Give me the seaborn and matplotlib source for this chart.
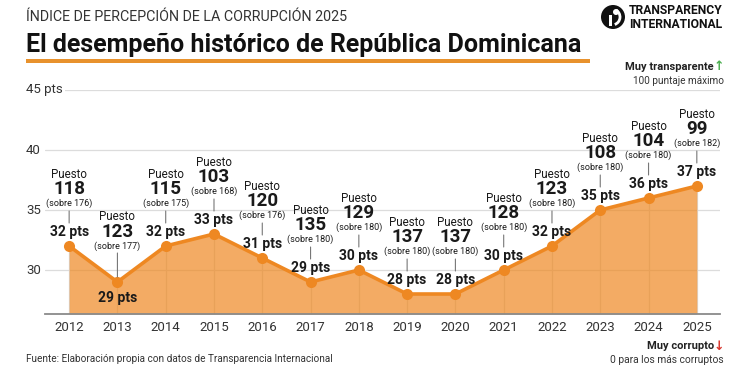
import matplotlib
matplotlib.use('Agg')
import pandas as pd
import matplotlib.pyplot as plt
import matplotlib.transforms as mtrans
import seaborn as sns
from matplotlib.patches import Circle, Rectangle, Arc

##### DATA #####
years = [2012, 2013, 2014, 2015, 2016, 2017, 2018, 2019, 2020, 2021, 2022, 2023, 2024, 2025]
scores = [32, 29, 32, 33, 31, 29, 30, 28, 28, 30, 32, 35, 36, 37]
ranks = [118, 123, 115, 103, 120, 135, 129, 137, 137, 128, 123, 108, 104, 99]
totals = [176, 177, 175, 168, 176, 180, 180, 180, 180, 180, 180, 180, 180, 182]
ytick_vals = [30, 35, 40, 45]
ytick_labels = ['30', '35', '40', '45 pts']
below_label_years = [2013]

df = pd.DataFrame({'year': years, 'score': scores})

##### STYLE #####
sns.set_theme(style='white')
ROBOTO = ['Roboto', 'DejaVu Sans']
plt.rcParams['font.family'] = ROBOTO

ORANGE = '#EE8822'
GRID = '#dcdcdc'
TXT = '#1a1a1a'

W, H = 750, 375
fx = lambda x: x / W
fy = lambda y: 1 - y / H

fig = plt.figure(figsize=(7.5, 3.75), dpi=100)
fig.patch.set_facecolor('white')

ax = fig.add_axes([fx(45), fy(314), (720 - 45) / W, (314 - 90) / H])
ybot = 30 - 44 / 12
ax.set_ylim(ybot, 45)
ax.set_xlim(2011.5, 2025.48)

##### GRID / FILL / LINE #####
for v in ytick_vals:
    ax.axhline(v, color=GRID, lw=0.9, zorder=0)
ax.vlines(years, ybot, scores, color=GRID, lw=0.9, zorder=0)
ax.fill_between(years, scores, ybot, color=ORANGE, alpha=0.7, lw=0, zorder=1)
sns.lineplot(data=df, x='year', y='score', ax=ax, color=ORANGE, lw=2.6,
             marker='o', markersize=8, markeredgewidth=0, zorder=3)

ylab_tr = mtrans.blended_transform_factory(fig.transFigure, ax.transData)
for v, lab in zip(ytick_vals, ytick_labels):
    ax.text(fx(26), v, lab, transform=ylab_tr, ha='left', va='center',
            fontsize=9.5, color='#333333',
            bbox=dict(boxstyle='square,pad=0.15', fc='white', ec='none'))

ax.set_yticks([])
ax.set_xticks(years)
ax.set_xticklabels([str(y) for y in years], fontsize=9.5, color='#333333')
ax.tick_params(axis='x', length=0, pad=5)
ax.set_xlabel('')
ax.set_ylabel('')
for s in ['top', 'left', 'right']:
    ax.spines[s].set_visible(False)
ax.spines['bottom'].set_color('#8a8a8a')
ax.spines['bottom'].set_linewidth(1.3)
ax.spines['bottom'].set_zorder(4)

##### ANNOTATIONS #####
def lab(x, y, txt, off, size, weight='normal'):
    ax.annotate(txt, xy=(x, y), xytext=(0, off), textcoords='offset pixels',
                ha='center', va='center', fontsize=size, fontweight=weight,
                color=TXT, zorder=5, annotation_clip=False)

def tick(x, y, top, bottom):
    ax.annotate('', xy=(x, y), xytext=(0, top), textcoords='offset pixels',
                arrowprops=dict(arrowstyle='-', color='#777777', lw=0.8,
                                shrinkA=0, shrinkB=bottom * 0.72),
                annotation_clip=False)

for yr, sc, rk, tot in zip(years, scores, ranks, totals):
    if yr in below_label_years:
        lab(yr, sc, f'{sc} pts', -16, 10, 'bold')
        tick(yr, sc, 29, 5)
        lab(yr, sc, f'(sobre {tot})', 36, 6.5)
        lab(yr, sc, str(rk), 50, 13.5, 'bold')
        lab(yr, sc, 'Puesto', 65, 8.3)
    else:
        lab(yr, sc, f'{sc} pts', 14, 10, 'bold')
        tick(yr, sc, 35, 23)
        lab(yr, sc, f'(sobre {tot})', 43, 6.5)
        lab(yr, sc, str(rk), 57, 13.5, 'bold')
        lab(yr, sc, 'Puesto', 72, 8.3)

##### TITLES #####
fig.text(fx(26), fy(17), 'ÍNDICE DE PERCEPCIÓN DE LA CORRUPCIÓN 2025',
         fontsize=10.3, color='#333333', ha='left', va='center')
fig.text(fx(26), fy(45), 'El desempeño histórico de República Dominicana',
         fontsize=18, fontweight='bold', color='#111111',
         ha='left', va='center')
fig.add_artist(Rectangle((fx(26), fy(63)), fx(590 - 26), 4 / H,
                         transform=fig.transFigure, color='#E8922D', lw=0))

# logo (pixel coordinates)
px = mtrans.IdentityTransform()
cx, cy = 613, H - 17
fig.add_artist(Circle((cx, cy), 12, transform=px, color='#111111', lw=0))
fig.add_artist(Circle((cx + 3, cy + 5), 3, transform=px, color='white', lw=0))
fig.add_artist(Arc((cx - 1, cy), 16, 16, theta1=-70, theta2=60, transform=px,
                   color='white', lw=2))
fig.add_artist(Rectangle((cx - 4, cy - 9), 2.5, 11, transform=px, color='white', lw=0))
fig.text(fx(629), fy(11), 'TRANSPARENCY', fontsize=8.7, fontweight='bold',
         color='#111111', ha='left', va='center')
fig.text(fx(629), fy(24), 'INTERNATIONAL', fontsize=8.7, fontweight='bold',
         color='#111111', ha='left', va='center')

fig.text(fx(714), fy(67), 'Muy transparente', fontsize=8, fontweight='bold',
         color='#222222', ha='right', va='center')
fig.text(fx(719), fy(67), '↑', fontsize=9, fontweight='bold', color='#4caf50',
         family=['DejaVu Sans'], ha='center', va='center')
fig.text(fx(724), fy(81), '100 puntaje máximo', fontsize=7.2, color='#333333',
         ha='right', va='center')

fig.text(fx(714), fy(346), 'Muy corrupto', fontsize=8, fontweight='bold',
         color='#222222', ha='right', va='center')
fig.text(fx(719), fy(346), '↓', fontsize=9, fontweight='bold', color='#d9342b',
         family=['DejaVu Sans'], ha='center', va='center')
fig.text(fx(724), fy(360), '0 para los más corruptos', fontsize=7.4,
         color='#333333', ha='right', va='center')
fig.text(fx(26), fy(359), 'Fuente: Elaboración propia con datos de Transparencia Internacional',
         fontsize=7.2, color='#333333', ha='left', va='center')

fig.savefig('out.png', dpi=100, facecolor='white')
